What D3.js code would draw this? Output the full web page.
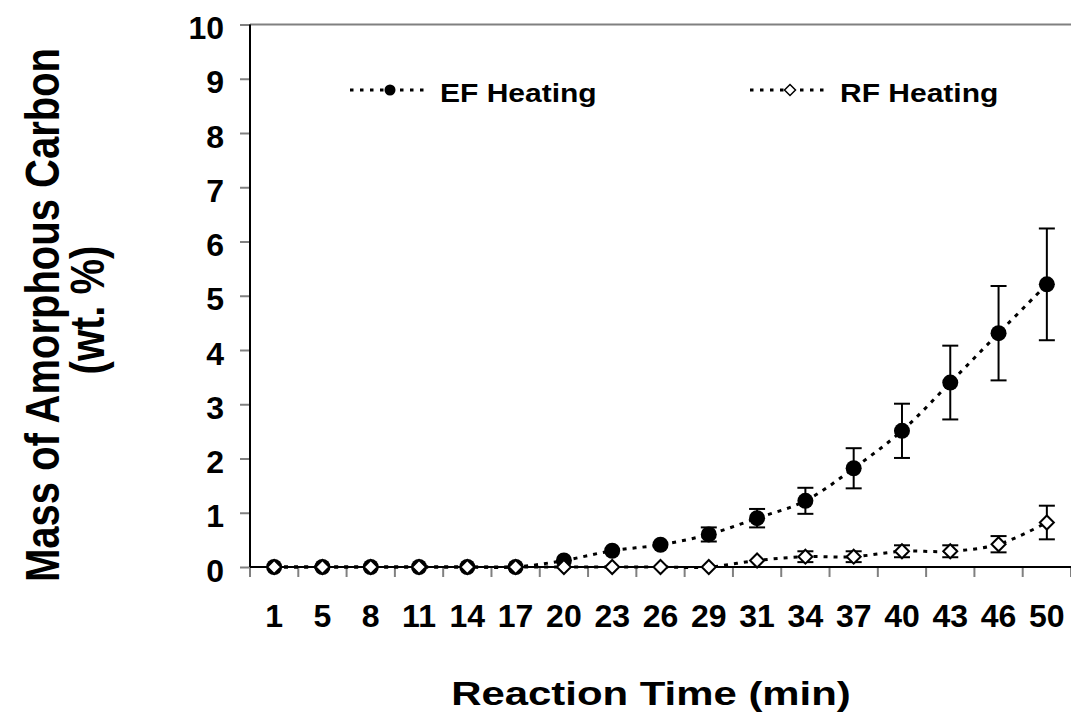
<!DOCTYPE html>
<html>
<head>
<meta charset="utf-8">
<script src="https://cdn.jsdelivr.net/npm/d3@7"></script>
<style>
  html, body { margin: 0; padding: 0; background: #fff; }
  svg { display: block; }
  text { font-family: "Liberation Sans", Arial, sans-serif; font-weight: bold; fill: #000; }
</style>
</head>
<body>
<script>
// ---- data ----
const categories = ["1","5","8","11","14","17","20","23","26","29","31","34","37","40","43","46","50"];
const efValues = [0,0,0,0,0,0,0.12,0.30,0.41,0.60,0.90,1.22,1.82,2.51,3.40,4.31,5.21];
const efErrors = [0,0,0,0,0,0,0,0,0,0.13,0.17,0.24,0.37,0.50,0.68,0.87,1.03];
const rfValues = [0,0,0,0,0,0,0,0,0,0,0.12,0.19,0.19,0.29,0.29,0.42,0.82];
const rfErrors = [0,0,0,0,0,0,0,0,0,0,0,0.10,0.10,0.11,0.11,0.15,0.31];
const yTickValues = [0,1,2,3,4,5,6,7,8,9,10];
const seriesNames = ["EF Heating", "RF Heating"];
const xTitle = "Reaction Time (min)";
const yTitleLines = ["Mass of Amorphous Carbon", "(wt. %)"];

(function () {
// ---- layout ----
const W = 1071, H = 713;
const pL = 250, pR = 1071, pT = 24.5, pB = 567;

const svg = d3.select("body").append("svg").attr("width", W).attr("height", H);

const x = d3.scaleBand().domain(categories).range([pL, pR]).padding(0);
const y = d3.scaleLinear().domain([0, 10]).range([pB, pT]);
const cx = c => x(c) + x.bandwidth() / 2;

// plot border top (gray)
svg.append("line").attr("x1", pL).attr("x2", pR).attr("y1", pT).attr("y2", pT)
  .attr("stroke", "#808080").attr("stroke-width", 2);

// y axis
const yAxis = d3.axisLeft(y).tickValues(yTickValues).tickSize(10).tickPadding(0).tickFormat(d3.format("d"));
const gy = svg.append("g").attr("transform", `translate(${pL},0)`).call(yAxis);
gy.select(".domain").remove();
gy.selectAll(".tick line").attr("stroke", "#808080").attr("stroke-width", 2);
gy.selectAll(".tick text").attr("x", -(pL - 224)).attr("dy", null).attr("y", 14)
  .attr("text-anchor", "end").attr("fill", "#000")
  .style("font-size", "32px").style("font-family", "'Liberation Sans', Arial, sans-serif").style("font-weight", "bold");

// x axis ticks at band boundaries
const boundaries = categories.map(c => x(c)).concat([pR]);
svg.append("g").selectAll("line").data(boundaries).join("line")
  .attr("x1", d => d).attr("x2", d => d).attr("y1", pB).attr("y2", pB + 10)
  .attr("stroke", "#808080").attr("stroke-width", 2);

// x labels via axis
const xAxis = d3.axisBottom(x).tickSize(0).tickPadding(0);
const gx = svg.append("g").attr("transform", `translate(0,${pB})`).call(xAxis);
gx.select(".domain").remove();
gx.selectAll(".tick text").attr("dy", null).attr("y", 60).attr("fill", "#000")
  .style("font-size", "32px").style("font-family", "'Liberation Sans', Arial, sans-serif").style("font-weight", "bold");

// axis lines
svg.append("line").attr("x1", pL).attr("x2", pL).attr("y1", pT).attr("y2", pB)
  .attr("stroke", "#000").attr("stroke-width", 2);
svg.append("line").attr("x1", pL).attr("x2", pR).attr("y1", pB).attr("y2", pB)
  .attr("stroke", "#000").attr("stroke-width", 2);

// series
const ef = categories.map((c, i) => ({c, v: efValues[i], e: efErrors[i]}));
const rf = categories.map((c, i) => ({c, v: rfValues[i], e: rfErrors[i]}));

const line = d3.line().x(d => cx(d.c)).y(d => y(d.v)).curve(d3.curveCatmullRom.alpha(0.5));

function drawLine(data) {
  svg.append("path").datum(data).attr("d", line)
    .attr("fill", "none").attr("stroke", "#000").attr("stroke-width", 3)
    .attr("stroke-dasharray", "4,6");
}
drawLine(ef);
drawLine(rf);

function drawErr(data) {
  const g = svg.append("g");
  const d2 = data.filter(d => d.e > 0);
  g.selectAll("line.v").data(d2).join("line").attr("class", "v")
    .attr("x1", d => cx(d.c)).attr("x2", d => cx(d.c))
    .attr("y1", d => y(d.v + d.e)).attr("y2", d => y(d.v - d.e))
    .attr("stroke", "#000").attr("stroke-width", 2);
  g.selectAll("line.ct").data(d2).join("line").attr("class", "ct")
    .attr("x1", d => cx(d.c) - 8).attr("x2", d => cx(d.c) + 8)
    .attr("y1", d => y(d.v + d.e)).attr("y2", d => y(d.v + d.e))
    .attr("stroke", "#000").attr("stroke-width", 2);
  g.selectAll("line.cb").data(d2).join("line").attr("class", "cb")
    .attr("x1", d => cx(d.c) - 8).attr("x2", d => cx(d.c) + 8)
    .attr("y1", d => y(d.v - d.e)).attr("y2", d => y(d.v - d.e))
    .attr("stroke", "#000").attr("stroke-width", 2);
}
drawErr(ef);
drawErr(rf);

const diamond = r => `M0,${-r}L${r},0L0,${r}L${-r},0Z`;

svg.append("g").selectAll("circle").data(ef).join("circle")
  .attr("cx", d => cx(d.c)).attr("cy", d => y(d.v)).attr("r", 8).attr("fill", "#000");
svg.append("g").selectAll("path").data(rf).join("path")
  .attr("transform", d => `translate(${cx(d.c)},${y(d.v)})`).attr("d", diamond(7))
  .attr("fill", "#fff").attr("stroke", "#000").attr("stroke-width", 2);

// legend
const legend = [
  {name: seriesNames[0], x0: 350, type: "circle"},
  {name: seriesNames[1], x0: 750, type: "diamond"}
];
const ly = 90;
legend.forEach(l => {
  svg.append("line").attr("x1", l.x0).attr("x2", l.x0 + 78).attr("y1", ly).attr("y2", ly)
    .attr("stroke", "#000").attr("stroke-width", 3).attr("stroke-dasharray", "3.5,6.5");
  if (l.type === "circle") {
    svg.append("circle").attr("cx", l.x0 + 40).attr("cy", ly).attr("r", 5.5).attr("fill", "#000");
  } else {
    svg.append("path").attr("transform", `translate(${l.x0 + 40},${ly})`).attr("d", diamond(5.5))
      .attr("fill", "#fff").attr("stroke", "#000").attr("stroke-width", 1.5);
  }
  svg.append("text").attr("transform", `translate(${l.x0 + 90},102) scale(1.2,1)`)
    .style("font-size", "25px").text(l.name);
});

// axis titles
svg.append("text").attr("transform", `translate(651,705) scale(1.27,1)`)
  .attr("text-anchor", "middle").style("font-size", "33px").text(xTitle);
svg.append("text").attr("transform", `translate(59,315) scale(1.2,1) rotate(-90)`)
  .attr("text-anchor", "middle").style("font-size", "40px").text(yTitleLines[0]);
svg.append("text").attr("transform", `translate(104,310) scale(1.2,1) rotate(-90)`)
  .attr("text-anchor", "middle").style("font-size", "40px").text(yTitleLines[1]);
})();
</script>
</body>
</html>
